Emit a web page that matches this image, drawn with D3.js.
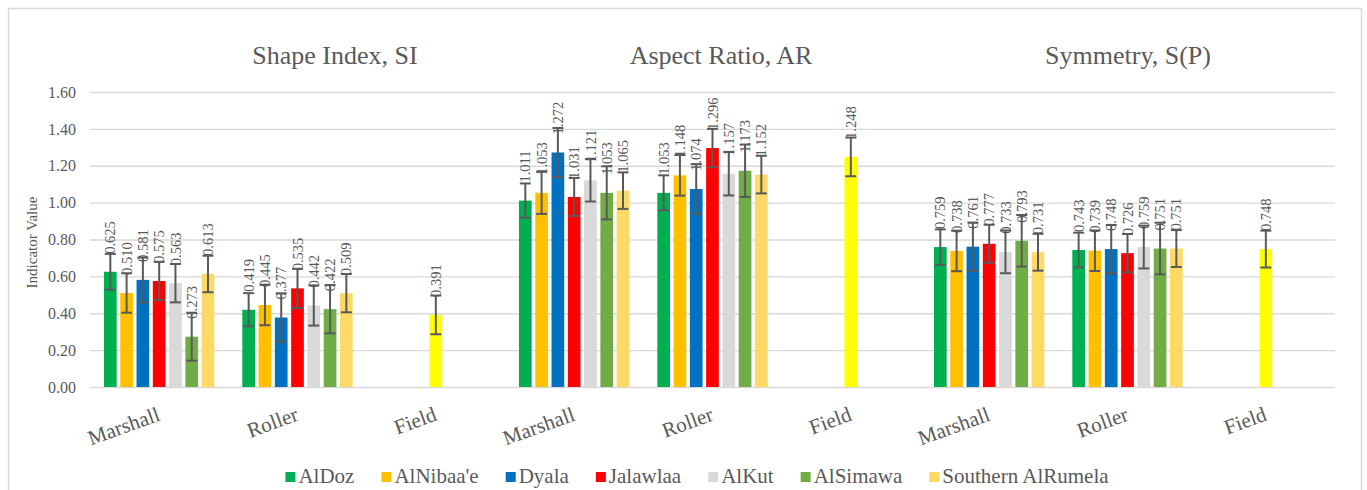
<!DOCTYPE html>
<html>
<head>
<meta charset="utf-8">
<script src="https://cdn.jsdelivr.net/npm/d3@7"></script>
<style>
  html, body { margin: 0; padding: 0; background: #fff; }
  svg { display: block; }
  text { font-family: "Liberation Serif", "Times New Roman", serif; fill: #595959; }
</style>
</head>
<body>
<svg id="chart" width="1367" height="490"></svg>
<script>
// ---------------- DATA ----------------
const groupTitles = ["Shape Index, SI", "Aspect Ratio, AR", "Symmetry, S(P)"];
const methods = ["Marshall", "Roller", "Field"];
const seriesNames = ["AlDoz", "AlNibaa'e", "Dyala", "Jalawlaa", "AlKut", "AlSimawa", "Southern AlRumela"];
const seriesColors = ["#00B050", "#FFC000", "#0070C0", "#FF0000", "#D9D9D9", "#70AD47", "#FFD966"];
const fieldColor = "#FFFF00";
// values in order: SI-Marshall, SI-Roller, AR-Marshall, AR-Roller, SP-Marshall, SP-Roller
const alDoz      = [0.625, 0.419, 1.011, 1.053, 0.759, 0.743];
const alNibaae   = [0.510, 0.445, 1.053, 1.148, 0.738, 0.739];
const dyala      = [0.581, 0.377, 1.272, 1.074, 0.761, 0.748];
const jalawlaa   = [0.575, 0.535, 1.031, 1.296, 0.777, 0.726];
const alKut      = [0.563, 0.442, 1.121, 1.157, 0.733, 0.759];
const alSimawa   = [0.273, 0.422, 1.053, 1.173, 0.793, 0.751];
const southernAR = [0.613, 0.509, 1.065, 1.152, 0.731, 0.751];
// error bar half-lengths (same order)
const errAlDoz      = [0.097, 0.090, 0.093, 0.095, 0.096, 0.094];
const errAlNibaae   = [0.107, 0.110, 0.114, 0.110, 0.110, 0.110];
const errDyala      = [0.121, 0.131, 0.133, 0.135, 0.131, 0.131];
const errJalawlaa   = [0.104, 0.106, 0.103, 0.104, 0.103, 0.104];
const errAlKut      = [0.104, 0.109, 0.115, 0.118, 0.116, 0.116];
const errAlSimawa   = [0.130, 0.131, 0.144, 0.142, 0.140, 0.140];
const errSouthernAR = [0.099, 0.104, 0.099, 0.102, 0.100, 0.100];
// Field measurements: SI, AR, SP
const fieldValues = [0.391, 1.248, 0.748];
const fieldErrors = [0.105, 0.105, 0.100];
const yTicks = [0.0, 0.2, 0.4, 0.6, 0.8, 1.0, 1.2, 1.4, 1.6];
const yAxisTitle = "Indicator Value";

// ---------------- LAYOUT ----------------
const seriesValues = [alDoz, alNibaae, dyala, jalawlaa, alKut, alSimawa, southernAR];
const seriesErrors = [errAlDoz, errAlNibaae, errDyala, errJalawlaa, errAlKut, errAlSimawa, errSouthernAR];

const svg = d3.select("#chart");
const plot = { left: 90, right: 1335, top: 92, bottom: 387 };
const FONT = '"Liberation Serif", "Times New Roman", serif';

// border
svg.append("rect").attr("x", 8.5).attr("y", 8.5).attr("width", 1353).attr("height", 500)
  .attr("fill", "#fff").attr("stroke", "#D9D9D9").attr("stroke-width", 1.5);

const catKeys = [];
groupTitles.forEach((g, gi) => methods.forEach((m, mi) => catKeys.push(gi + "|" + m)));

const x0 = d3.scaleBand().domain(catKeys).range([plot.left, plot.right]).padding(0);
const x1 = d3.scaleBand().domain(seriesNames).range([0, x0.bandwidth()])
  .paddingInner(0.22).paddingOuter(0.858);
const y = d3.scaleLinear().domain([0, 1.6]).range([plot.bottom, plot.top]);

// grid + y axis
const yAxis = d3.axisLeft(y).tickValues(yTicks).tickFormat(d3.format(".2f"))
  .tickSizeInner(-(plot.right - plot.left)).tickSizeOuter(0).tickPadding(14);
const gy = svg.append("g").attr("transform", `translate(${plot.left},0)`).call(yAxis);
gy.attr("font-family", FONT);
gy.select(".domain").remove();
gy.selectAll(".tick line").attr("stroke", "#D9D9D9").attr("stroke-width", 1.4);
gy.selectAll(".tick text").attr("font-size", 16).attr("fill", "#595959")
  .style("font-family", FONT);

// y axis title
svg.append("text").attr("transform", `translate(37,${(plot.top + plot.bottom) / 2 + 3}) rotate(-90)`)
  .attr("text-anchor", "middle").attr("font-size", 15).text(yAxisTitle);

// bars data
const bars = [];
groupTitles.forEach((g, gi) => {
  ["Marshall", "Roller"].forEach((m, mi) => {
    const idx = gi * 2 + mi;
    seriesNames.forEach((s, si) => {
      bars.push({ cat: gi + "|" + m, x: x0(gi + "|" + m) + x1(s), w: x1.bandwidth(),
        v: seriesValues[si][idx], e: seriesErrors[si][idx], color: seriesColors[si] });
    });
  });
  const fk = gi + "|Field";
  bars.push({ cat: fk, x: x0(fk) + (x0.bandwidth() - x1.bandwidth()) / 2, w: x1.bandwidth(),
    v: fieldValues[gi], e: fieldErrors[gi], color: fieldColor });
});

const gBars = svg.append("g");
gBars.selectAll("rect").data(bars).join("rect")
  .attr("x", d => d.x).attr("width", d => d.w)
  .attr("y", d => y(d.v)).attr("height", d => y(0) - y(d.v))
  .attr("fill", d => d.color);

// error bars
const eb = svg.append("g").attr("stroke", "#595959").attr("stroke-width", 2).attr("fill", "none");
const capW = 11;
bars.forEach(d => {
  const cx = d.x + d.w / 2;
  eb.append("line").attr("x1", cx).attr("x2", cx).attr("y1", y(d.v + d.e)).attr("y2", y(d.v - d.e));
  eb.append("line").attr("x1", cx - capW / 2).attr("x2", cx + capW / 2).attr("y1", y(d.v + d.e)).attr("y2", y(d.v + d.e));
  eb.append("line").attr("x1", cx - capW / 2).attr("x2", cx + capW / 2).attr("y1", y(d.v - d.e)).attr("y2", y(d.v - d.e));
});

// value labels
const fmt = d3.format(".3f");
svg.append("g").selectAll("text").data(bars).join("text")
  .attr("transform", d => `translate(${d.x + d.w / 2},${y(d.v) - 18}) rotate(-90)`)
  .attr("dy", "0.35em").attr("text-anchor", "start").attr("font-size", 14.5)
  .text(d => fmt(d.v));

// category labels
svg.append("g").selectAll("text").data(catKeys).join("text")
  .attr("transform", d => `translate(${x0(d) + x0.bandwidth() / 2 + 2},420) rotate(-20)`)
  .attr("text-anchor", "end").attr("font-size", 21)
  .text(d => d.split("|")[1]);

// group titles
const titleX = [335, 721, 1128];
svg.append("g").selectAll("text").data(groupTitles).join("text")
  .attr("x", (d, i) => titleX[i]).attr("y", 64).attr("text-anchor", "middle")
  .attr("font-size", 26).text(d => d);

// legend
const lg = svg.append("g");
const items = seriesNames.map((s, i) => {
  const g = lg.append("g");
  g.append("rect").attr("width", 10).attr("height", 10).attr("y", -11).attr("fill", seriesColors[i]);
  const t = g.append("text").attr("x", 13).attr("y", 0).attr("font-size", 21).text(s);
  return { g, w: 13 + t.node().getComputedTextLength() };
});
const gap = 27;
const total = d3.sum(items, d => d.w) + gap * (items.length - 1);
let cur = 697 - total / 2;
items.forEach(it => {
  it.g.attr("transform", `translate(${cur},483)`);
  cur += it.w + gap;
});
</script>
</body>
</html>
